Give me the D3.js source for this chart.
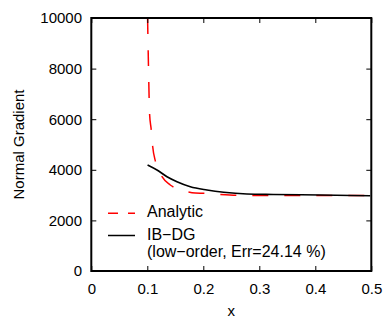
<!DOCTYPE html>
<html>
<head>
<meta charset="utf-8">
<script src="https://cdn.jsdelivr.net/npm/d3@7"></script>
<style>
  body { margin: 0; background: #fff; }
  svg { display: block; font-family: "Liberation Sans", Arial, Helvetica, sans-serif; }
</style>
</head>
<body>
<div id="chart"></div>
<script>
// values
const analyticX = [0.1005, 0.1021, 0.1041, 0.1071, 0.1095, 0.1148, 0.1263, 0.141, 0.162, 0.1857, 0.2005, 0.2245, 0.26, 0.35, 0.5]
const analyticY = [10000, 8100, 6200, 5570, 4940, 4310, 3727, 3400, 3200, 3083, 3071, 3032, 2992, 2985, 2985]
const ibdgX = [0.1005, 0.1173, 0.1352, 0.153, 0.1768, 0.2066, 0.2363, 0.278, 0.325, 0.409, 0.498]
const ibdgY = [4190, 3992, 3727, 3530, 3332, 3202, 3111, 3043, 3024, 3004, 2976]
const xTicks = [0, 0.1, 0.2, 0.3, 0.4, 0.5]
const yTicks = [0, 2000, 4000, 6000, 8000, 10000]
const legendLabels = ["Analytic", "IB\u2212DG", "(low\u2212order, Err=24.14 %)"]

const width = 384, height = 320
const margin = {top: 18, right: 12.7, bottom: 49, left: 91.3}

const svg = d3.select("#chart")
  .append("svg")
    .attr("width", width)
    .attr("height", height)

svg.append("rect").attr("width", width).attr("height", height).attr("fill", "#fff")

var x = d3.scaleLinear()
  .domain([0, 0.5])
  .range([margin.left, width - margin.right])
var y = d3.scaleLinear()
  .domain([0, 10000])
  .range([height - margin.bottom, margin.top])

svg.append("clipPath").attr("id", "plot-clip")
  .append("rect")
    .attr("x", x(0)).attr("y", y(10000))
    .attr("width", x(0.5) - x(0)).attr("height", y(0) - y(10000))

const line = d3.line()
  .x(d => x(d[0]))
  .y(d => y(d[1]))
  .curve(d3.curveMonotoneX)

const plot = svg.append("g").attr("clip-path", "url(#plot-clip)")

plot.append("path")
  .datum(analyticX.map((v, i) => [v, analyticY[i]]))
  .attr("fill", "none")
  .attr("stroke", "#ff0000")
  .attr("stroke-width", 1.5)
  .attr("stroke-dasharray", "16,16")
  .attr("d", line)

plot.append("path")
  .datum(ibdgX.map((v, i) => [v, ibdgY[i]]))
  .attr("fill", "none")
  .attr("stroke", "#000")
  .attr("stroke-width", 1.6)
  .attr("d", line)

// axes, ticks pointing inward on all four sides
function styleAxis(g) {
  g.select(".domain").remove()
  g.selectAll(".tick line").attr("stroke", "#000").attr("stroke-width", 1)
  g.selectAll(".tick text").attr("fill", "#000").attr("font-size", 15)
}

svg.append("g")
  .attr("transform", "translate(0," + y(0) + ")")
  .call(d3.axisBottom(x).tickValues(xTicks).tickFormat(d => String(d)).tickSizeInner(-5).tickSizeOuter(0).tickPadding(12))
  .call(styleAxis)
svg.append("g")
  .attr("transform", "translate(0," + y(10000) + ")")
  .call(d3.axisTop(x).tickValues(xTicks).tickFormat("").tickSizeInner(-5).tickSizeOuter(0))
  .call(styleAxis)
svg.append("g")
  .attr("transform", "translate(" + x(0) + ",0)")
  .call(d3.axisLeft(y).tickValues(yTicks).tickFormat(d => String(d)).tickSizeInner(-5).tickSizeOuter(0).tickPadding(9.3))
  .call(styleAxis)
svg.append("g")
  .attr("transform", "translate(" + x(0.5) + ",0)")
  .call(d3.axisRight(y).tickValues(yTicks).tickFormat("").tickSizeInner(-5).tickSizeOuter(0))
  .call(styleAxis)

svg.append("rect")
  .attr("x", x(0)).attr("y", y(10000))
  .attr("width", x(0.5) - x(0)).attr("height", y(0) - y(10000))
  .attr("fill", "none")
  .attr("stroke", "#000")
  .attr("stroke-width", 2)

svg.append("text")
  .attr("x", (x(0) + x(0.5)) / 2)
  .attr("y", 316)
  .attr("text-anchor", "middle")
  .attr("font-size", 15)
  .text("x")

svg.append("text")
  .attr("transform", "translate(24," + (y(0) + y(10000)) / 2 + ") rotate(-90)")
  .attr("text-anchor", "middle")
  .attr("font-size", 15)
  .text("Normal Gradient")

// legend
const legend = svg.append("g")
legend.append("line")
  .attr("x1", 108).attr("x2", 135).attr("y1", 213.3).attr("y2", 213.3)
  .attr("stroke", "#ff0000").attr("stroke-width", 1.5).attr("stroke-dasharray", "10,10")
legend.append("line")
  .attr("x1", 108).attr("x2", 135).attr("y1", 235.5).attr("y2", 235.5)
  .attr("stroke", "#000").attr("stroke-width", 1.5)
legend.selectAll("text.lab")
  .data(legendLabels)
  .join("text")
    .attr("class", "lab")
    .attr("x", 147)
    .attr("y", (d, i) => [217.3, 240, 257.3][i])
    .attr("font-size", 16)
    .text(d => d)
</script>
</body>
</html>
